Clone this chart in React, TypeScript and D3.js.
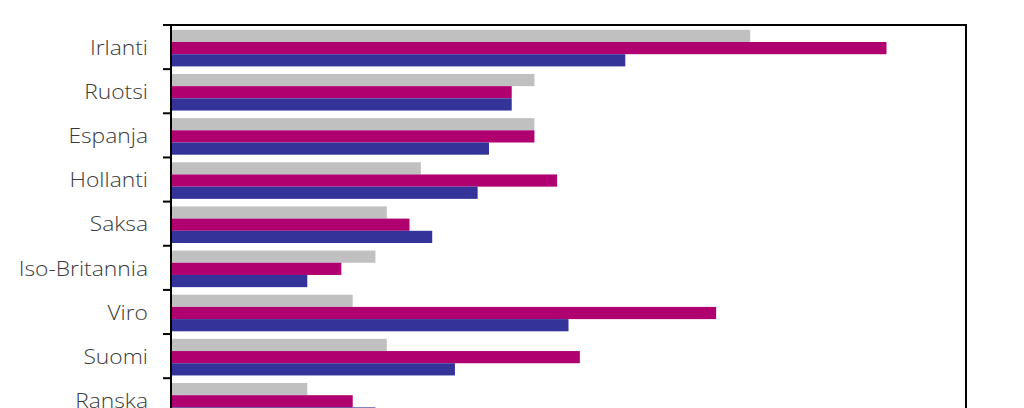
import React from "react";
import * as d3 from "d3";

const categories = ["Irlanti", "Ruotsi", "Espanja", "Hollanti", "Saksa", "Iso-Britannia", "Viro", "Suomi", "Ranska"];
const seriesNames = ["s1", "s2", "s3"];
const grayValues = [51, 32, 32, 22, 19, 18, 16, 19, 12];
const magentaValues = [63, 30, 32, 34, 21, 15, 48, 36, 16];
const blueValues = [40, 30, 28, 27, 23, 12, 35, 25, 18];
const seriesColors = ["#C0C0C0", "#B0006F", "#333399"];
const xDomainMax = 70;

const W = 1024;
const H = 408;
const left = 171;
const right = 966;
const top = 25;
const step = 44.15;

export default function App() {
  const series = [grayValues, magentaValues, blueValues];
  const x = d3.scaleLinear().domain([0, xDomainMax]).range([left, right]);
  const y = d3
    .scaleBand<string>()
    .domain(categories)
    .range([top, top + step * categories.length])
    .paddingInner(0)
    .paddingOuter(0);
  const inner = d3
    .scaleBand<string>()
    .domain(seriesNames)
    .range([4.8, 4.8 + 36.6]);
  const bottom = top + step * categories.length + 60;

  return (
    <div style={{ position: "fixed", left: 0, top: 0, width: W, height: H }}>
      <svg width={W} height={H} style={{ display: "block" }}>
        <rect x={0} y={0} width={W} height={H} fill="#fff" />
        {categories.map((c, i) => (
          <g key={c}>
            {series.map((vals, s) => (
              <rect
                key={s}
                x={x(0)}
                y={(y(c) as number) + (inner(seriesNames[s]) as number)}
                width={x(vals[i]) - x(0)}
                height={inner.bandwidth()}
                fill={seriesColors[s]}
              />
            ))}
            <text
              transform={`translate(148,${(y(c) as number) + y.bandwidth() / 2 + 2.5}) scale(1.17,1)`}
              x={0}
              y={0}
              textAnchor="end"
              dominantBaseline="middle"
              fontFamily="'Open Sans', Lato, sans-serif"
              fontWeight={300}
              fontSize={19.5}
              fill="#3a3a3a"
            >
              {c}
            </text>
          </g>
        ))}
        {d3.range(categories.length + 1).map((i) => (
          <line
            key={i}
            x1={163}
            x2={left}
            y1={top + step * i}
            y2={top + step * i}
            stroke="#000"
            strokeWidth={2}
          />
        ))}
        <path
          d={`M${left},${bottom} V${top} H${right} V${bottom}`}
          fill="none"
          stroke="#000"
          strokeWidth={2}
        />
      </svg>
    </div>
  );
}
